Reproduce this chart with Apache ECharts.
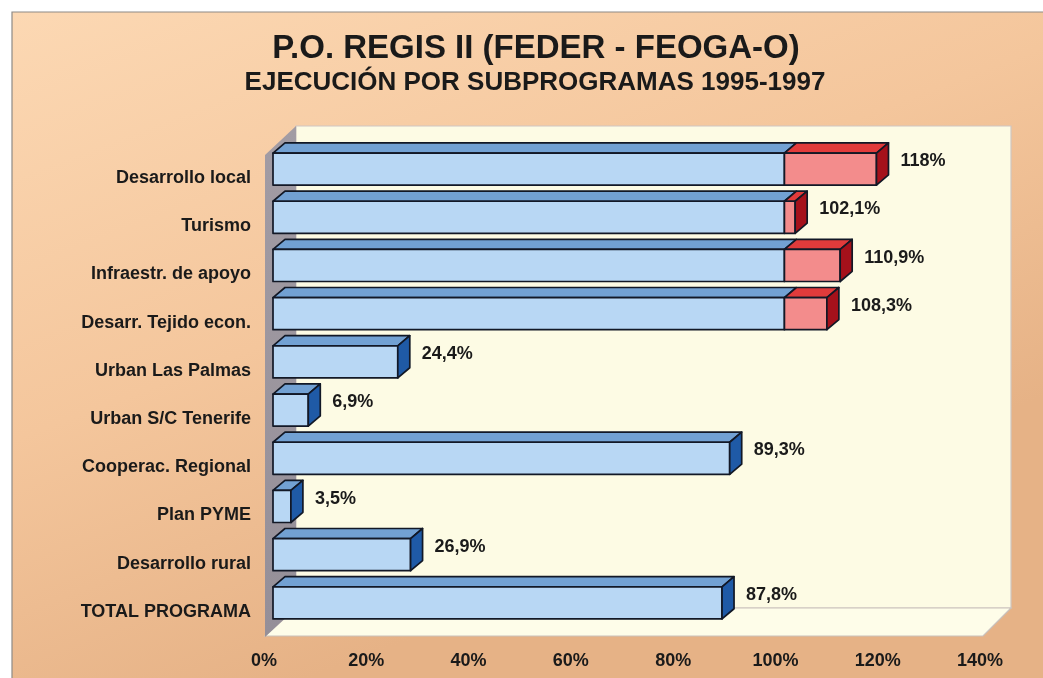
<!DOCTYPE html>
<html>
<head>
<meta charset="utf-8">
<script src="https://cdn.jsdelivr.net/npm/echarts@6/dist/echarts.min.js"></script>
<style>
  html, body { margin: 0; padding: 0; background: #ffffff; }
  #chart { width: 1043px; height: 678px; }
</style>
</head>
<body>
<div id="chart"></div>
<script>
// ---- data ----
const categories = ['Desarrollo local', 'Turismo', 'Infraestr. de apoyo', 'Desarr. Tejido econ.', 'Urban Las Palmas', 'Urban S/C Tenerife', 'Cooperac. Regional', 'Plan PYME', 'Desarrollo rural', 'TOTAL PROGRAMA'];
const values = [118, 102.1, 110.9, 108.3, 24.4, 6.9, 89.3, 3.5, 26.9, 87.8];
const valueLabels = ['118%', '102,1%', '110,9%', '108,3%', '24,4%', '6,9%', '89,3%', '3,5%', '26,9%', '87,8%'];
const target = 100;
const axisMin = 0, axisMax = 140, axisStep = 20;
const titleText = 'P.O. REGIS II (FEDER - FEOGA-O)';
const subtitleText = 'EJECUCIÓN POR SUBPROGRAMAS 1995-1997';

// ---- derived series data ----
const blueData = values.map((v, i) => [Math.min(v, target), i, 0, v > target ? 0 : 1]);
const redData = [];
values.forEach((v, i) => { if (v > target) redData.push([v, i, target, 1]); });
const labelData = values.map((v, i) => [v, i]);

const FONT = '"Liberation Sans", Arial, Helvetica, sans-serif';
const DX = 12;
const STROKE = '#121826';

function makeBox(colors) {
  return function (params, api) {
    const end = api.value(0), cat = api.value(1), start = api.value(2), side = api.value(3);
    const p0 = api.coord([start, cat]);
    const p1 = api.coord([end, cat]);
    const band = api.size([0, 1])[1];
    const yc = p0[1];
    const top = yc - 0.52 * band;
    const bot = yc + 0.145 * band;
    const dy = 0.21 * band;
    const x0 = p0[0], x1 = p1[0];
    const style = (fill) => ({ fill: fill, stroke: STROKE, lineWidth: 1.7, lineJoin: 'round' });
    const children = [
      { type: 'polygon', shape: { points: [[x0, top], [x0 + DX, top - dy], [x1 + DX, top - dy], [x1, top]] }, style: style(colors.top) },
      { type: 'rect', shape: { x: x0, y: top, width: x1 - x0, height: bot - top }, style: style(colors.front) }
    ];
    if (side) {
      children.push({ type: 'polygon', shape: { points: [[x1, top], [x1 + DX, top - dy], [x1 + DX, bot - dy], [x1, bot]] }, style: style(colors.side) });
    }
    return { type: 'group', children: children };
  };
}

const chart = echarts.init(document.getElementById('chart'), null, { renderer: 'canvas' });

const option = {
  animation: false,
  backgroundColor: '#ffffff',
  graphic: [
    // peach panel
    { type: 'rect', z: -20, shape: { x: 12, y: 12, width: 1040, height: 680 },
      style: { fill: new echarts.graphic.LinearGradient(0, 0, 0.25, 1, [
        { offset: 0, color: '#fcd8b3' }, { offset: 0.55, color: '#f4c69c' }, { offset: 1, color: '#e6b286' }]),
        stroke: '#8e8a86', lineWidth: 1.2 } },
    // back wall
    { type: 'rect', z: -15, shape: { x: 296, y: 126, width: 715, height: 482 },
      style: { fill: '#fdfbe4', stroke: '#cfc6c2', lineWidth: 1.2 } },
    // floor
    { type: 'polygon', z: -14, shape: { points: [[296, 608], [1011, 608], [983, 636], [265, 636]] },
      style: { fill: '#fefde9', stroke: '#c9c1bc', lineWidth: 1.2 } },
    // left wall
    { type: 'polygon', z: -13, shape: { points: [[296, 126], [296, 608], [265, 637], [265, 155]] },
      style: { fill: new echarts.graphic.LinearGradient(0, 0, 0, 1, [
        { offset: 0, color: '#a29ca4' }, { offset: 1, color: '#958f98' }]) } },
    // titles
    { type: 'text', z: 10, x: 536, y: 49, style: { text: titleText, fontFamily: FONT, fontWeight: 'bold', fontSize: 33, fill: '#1a1a1a', align: 'center', verticalAlign: 'middle' } },
    { type: 'text', z: 10, x: 535, y: 83, style: { text: subtitleText, fontFamily: FONT, fontWeight: 'bold', fontSize: 26, fill: '#1a1a1a', align: 'center', verticalAlign: 'middle' } }
  ],
  grid: { left: 273, width: 716, top: 154, height: 482, containLabel: false },
  xAxis: {
    type: 'value', min: axisMin, max: axisMax, interval: axisStep,
    axisLine: { show: false }, axisTick: { show: false }, splitLine: { show: false },
    axisLabel: { formatter: '{value}%', margin: 16, padding: [0, 18, 0, 0], fontFamily: FONT, fontWeight: 'bold', fontSize: 18, color: '#1a1a1a' }
  },
  yAxis: {
    type: 'category', inverse: true, data: categories,
    axisLine: { show: false }, axisTick: { show: false }, splitLine: { show: false },
    axisLabel: { margin: 22, fontFamily: FONT, fontWeight: 'bold', fontSize: 18, color: '#1a1a1a' }
  },
  series: [
    { type: 'custom', name: 'ejecución', renderItem: makeBox({ front: '#b8d7f4', top: '#72a1d3', side: '#1f5aa6' }),
      data: blueData, encode: { x: [0, 2], y: 1 }, z: 3 },
    { type: 'custom', name: 'exceso', renderItem: makeBox({ front: '#f38c8c', top: '#e13b3b', side: '#a5111b' }),
      data: redData, encode: { x: [0, 2], y: 1 }, z: 4 },
    { type: 'custom', name: 'etiquetas', z: 5, data: labelData, encode: { x: 0, y: 1 },
      renderItem: function (params, api) {
        const p = api.coord([api.value(0), api.value(1)]);
        const band = api.size([0, 1])[1];
        return { type: 'text', x: p[0] + DX + 12, y: p[1] - 0.35 * band,
          style: { text: valueLabels[params.dataIndex], fontFamily: FONT, fontWeight: 'bold', fontSize: 18, fill: '#1a1a1a', align: 'left', verticalAlign: 'middle' } };
      } }
  ]
};
chart.setOption(option);
</script>
</body>
</html>
